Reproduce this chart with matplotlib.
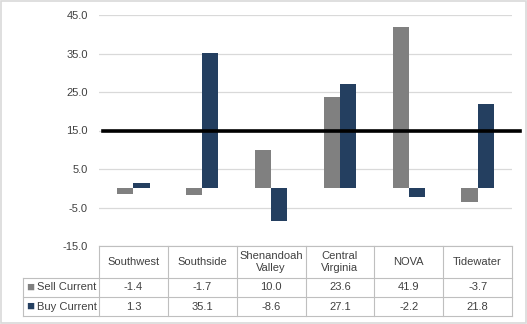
import numpy as np
import matplotlib.pyplot as plt
from matplotlib.patches import Rectangle

regions = ['Southwest', 'Southside', 'Shenandoah\nValley', 'Central\nVirginia', 'NOVA', 'Tidewater']
sell_current = [-1.4, -1.7, 10.0, 23.6, 41.9, -3.7]
buy_current = [1.3, 35.1, -8.6, 27.1, -2.2, 21.8]
series_names = ['Sell Current', 'Buy Current']
threshold = 15.0
yticks = [-15, -5, 5, 15, 25, 35, 45]

gray = '#808080'
navy = '#243F60'
grid_c = '#D9D9D9'
border_c = '#BFBFBF'
text_c = '#404040'

W, H = 527, 324
fig = plt.figure(figsize=(W / 100, H / 100), dpi=100)
plt.rcParams['font.family'] = ['Liberation Sans', 'DejaVu Sans']
fs = 8

def fx(px):
    return px / W

def fy(py):
    return 1 - py / H

# main bar axes
ax = fig.add_axes([fx(99), fy(246), fx(512) - fx(99), fy(15) - fy(246)])
x = np.arange(len(regions))
bw = 0.235
ax.bar(x - bw / 2, sell_current, bw, color=gray, zorder=2)
ax.bar(x + bw / 2, buy_current, bw, color=navy, zorder=2)
ax.set_xlim(-0.5, len(regions) - 0.5)
ax.set_ylim(-15, 45)
ax.set_yticks(yticks)
ax.set_yticklabels([f'{v:.1f}' for v in yticks], fontsize=fs, color=text_c)
ax.tick_params(axis='y', length=0, pad=8)
ax.set_xticks([])
for v in yticks:
    ax.axhline(v, color=grid_c, lw=0.9, zorder=1)
for s in ax.spines.values():
    s.set_visible(False)
ax.plot([-0.44, len(regions) - 0.38], [threshold, threshold], color='black', lw=2.6,
        clip_on=False, zorder=3)

# data table
tab = fig.add_axes([fx(23), fy(316), fx(512) - fx(23), fy(246) - fy(316)])
label_w = 76 / 68.8
tab.set_xlim(-0.5 - label_w, len(regions) - 0.5)
tab.set_ylim(0, 70)
tab.axis('off')
rows_y = [0, 19, 38, 70]
left = -0.5 - label_w
right = len(regions) - 0.5
lw = 0.8
# horizontal lines
tab.plot([-0.5, right], [70, 70], color=border_c, lw=lw, clip_on=False)
for yy in rows_y[:3]:
    tab.plot([left, right], [yy, yy], color=border_c, lw=lw, clip_on=False)
# vertical lines
tab.plot([left, left], [0, 38], color=border_c, lw=lw, clip_on=False)
for i in range(len(regions) + 1):
    xx = i - 0.5
    tab.plot([xx, xx], [0, 70], color=border_c, lw=lw, clip_on=False)

for i, r in enumerate(regions):
    tab.text(i, 54, r, ha='center', va='center', fontsize=fs, color=text_c,
             linespacing=1.15)
    tab.text(i, 28.5, f'{sell_current[i]:.1f}', ha='center', va='center', fontsize=fs, color=text_c)
    tab.text(i, 9.5, f'{buy_current[i]:.1f}', ha='center', va='center', fontsize=fs, color=text_c)

for yy, name, c in [(28.5, series_names[0], gray), (9.5, series_names[1], navy)]:
    tab.text(left + 0.04, yy, '■', ha='left', va='center', fontsize=fs + 1.5, color=c)
    tab.text(left + 0.2, yy, name, ha='left', va='center', fontsize=fs, color=text_c)

# figure border
fig.patches.append(Rectangle((0.001, 0.002), 0.997, 0.995, transform=fig.transFigure,
                             fill=False, edgecolor=grid_c, lw=1.2))

fig.savefig('out.png', dpi=100)
